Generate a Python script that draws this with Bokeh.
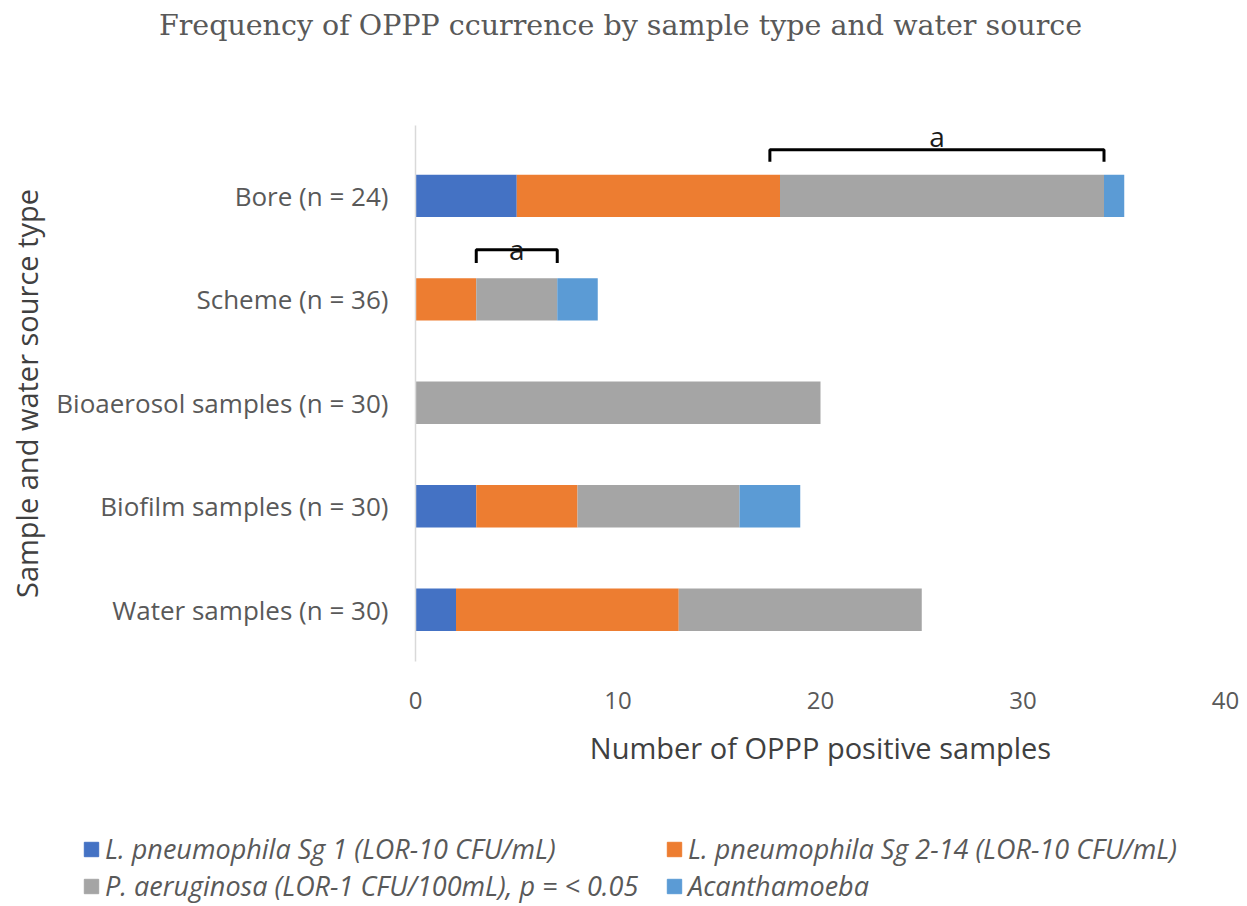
from bokeh.plotting import figure
from bokeh.models import (ColumnDataSource, Range1d, FixedTicker, Legend, LegendItem)
from bokeh.layouts import column
from bokeh.core.properties import value
from bokeh.embed import file_html
from bokeh.resources import INLINE

# ---- data (bottom to top) ----
categories = ["Water samples (n = 30)", "Biofilm samples (n = 30)",
              "Bioaerosol samples (n = 30)", "Scheme (n = 36)", "Bore (n = 24)"]
lp_sg1 = [2, 3, 0, 0, 5]
lp_sg2_14 = [11, 5, 0, 3, 13]
p_aeruginosa = [12, 8, 20, 4, 16]
acanthamoeba = [0, 3, 0, 2, 1]
series_names = ["L. pneumophila Sg 1 (LOR-10 CFU/mL)",
                "L. pneumophila Sg 2-14 (LOR-10 CFU/mL)",
                "P. aeruginosa (LOR-1 CFU/100mL), p = < 0.05",
                "Acanthamoeba"]
colors = ["#4472C4", "#ED7D31", "#A5A5A5", "#5B9BD5"]
x_ticks = [0, 10, 20, 30, 40]
title_text = "Frequency of OPPP ccurrence by sample type and water source"
# significance brackets: category, start, end, label
bracket_cat = ["Bore (n = 24)", "Scheme (n = 36)"]
bracket_start = [17.5, 3]
bracket_end = [34, 7]
bracket_label = ["a", "a"]

ypos = list(range(len(categories)))
keys = ["s1", "s2", "s3", "s4"]
src = ColumnDataSource(dict(y=ypos, s1=lp_sg1, s2=lp_sg2_14, s3=p_aeruginosa, s4=acanthamoeba))

# ---- header with title ----
hd = figure(width=1240, height=56, output_backend="svg", toolbar_location=None,
            x_axis_type=None, y_axis_type=None, frame_align=False,
            min_border_left=0, min_border_right=0, min_border_bottom=0, min_border_top=46,
            title=title_text)
hd.grid.visible = False
hd.outline_line_color = None
hd.title.align = "center"
hd.title.offset = 10
hd.title.text_font = "DejaVu Serif"
hd.title.text_font_style = "normal"
hd.title.text_font_size = "28.5px"
hd.title.text_color = "#595959"

# ---- main chart ----
p = figure(width=1240, height=734, output_backend="svg", toolbar_location=None,
           x_range=Range1d(0, 40), y_range=Range1d(-0.5, len(categories) - 0.32),
           min_border_left=415, min_border_right=15, min_border_top=69,
           min_border_bottom=129, frame_align=False)
p.outline_line_color = None
p.grid.visible = False
p.background_fill_color = "white"

renderers = p.hbar_stack(keys, y="y", height=0.41, color=colors, source=src,
                         line_color=None)

# brackets (vertical offsets are layout, in category units)
bracket_top = [0.445, 0.48]
bracket_drop = [0.115, 0.13]
label_off = [0.58, 0.485]
for cat, x0, x1, lab, top, drop, lo in zip(bracket_cat, bracket_start, bracket_end,
                                           bracket_label, bracket_top, bracket_drop, label_off):
    yc = categories.index(cat)
    p.line([x0, x0, x1, x1], [yc + top - drop, yc + top, yc + top, yc + top - drop],
           line_color="black", line_width=3)
    p.text(x=[(x0 + x1) / 2], y=[yc + lo], text=[lab], text_align="center",
           text_baseline="middle", text_font=value("Open Sans"), text_font_size="28px",
           text_color="#1a1a1a")

xa = p.xaxis[0]
xa.ticker = FixedTicker(ticks=x_ticks)
xa.axis_line_color = None
xa.major_tick_line_color = None
xa.minor_tick_line_color = None
xa.major_label_text_font = "Open Sans"
xa.major_label_text_font_size = "24px"
xa.major_label_text_color = "#595959"
xa.major_label_standoff = 24
xa.axis_label = "Number of OPPP positive samples"
xa.axis_label_text_font = "Open Sans"
xa.axis_label_text_font_style = "normal"
xa.axis_label_text_font_size = "29px"
xa.axis_label_text_color = "#404040"
xa.axis_label_standoff = 16

ya = p.yaxis[0]
ya.ticker = FixedTicker(ticks=ypos)
ya.major_label_overrides = {i: c for i, c in enumerate(categories)}
ya.axis_line_color = "#D9D9D9"
ya.axis_line_width = 1.5
ya.major_tick_line_color = None
ya.minor_tick_line_color = None
ya.major_label_text_font = "Open Sans"
ya.major_label_text_font_size = "26px"
ya.major_label_text_color = "#595959"
ya.major_label_standoff = 21
ya.axis_label = "Sample and water source type"
ya.axis_label_text_font = "Open Sans"
ya.axis_label_text_font_style = "normal"
ya.axis_label_text_font_size = "29px"
ya.axis_label_text_color = "#404040"
ya.axis_label_standoff = 7

# ---- legend panel below the chart ----
lg = figure(width=1240, height=114, output_backend="svg", toolbar_location=None,
            x_range=Range1d(0, 1), y_range=Range1d(0, 1), min_border=0,
            x_axis_type=None, y_axis_type=None, frame_align=False)
lg.grid.visible = False
lg.outline_line_color = None
lg_src = ColumnDataSource(dict(y=[-10], r=[0]))
lg_renderers = [lg.hbar(y="y", right="r", height=0.1, color=c, source=lg_src) for c in colors]
items = [LegendItem(label=n, renderers=[r]) for n, r in zip(series_names, lg_renderers)]
legend = Legend(items=items, orientation="horizontal", ncols=2,
                location=(82, 0), padding=0, margin=0, spacing=0,
                glyph_width=18, glyph_height=18, label_standoff=5, label_width=560,
                label_text_font="Open Sans", label_text_font_style="italic",
                label_text_font_size="27px", label_text_color="#595959",
                label_height=18, border_line_color=None, background_fill_alpha=0)
lg.add_layout(legend, "center")

layout = column(hd, p, lg, spacing=0)
open("out.html", "w").write(file_html(layout, INLINE))
